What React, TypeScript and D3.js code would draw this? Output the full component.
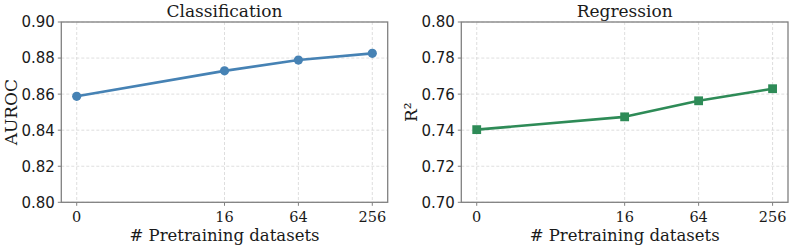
import { useEffect, useRef } from 'react';
import * as d3 from 'd3';

const datasetCounts = [0, 16, 64, 256];
const classificationAuroc = [0.8588, 0.8729, 0.8789, 0.8826];
const regressionR2 = [0.7403, 0.7474, 0.7563, 0.7630];
const classificationTicks = [0.8, 0.82, 0.84, 0.86, 0.88, 0.9];
const regressionTicks = [0.7, 0.72, 0.74, 0.76, 0.78, 0.8];

const WIDTH = 792;
const HEIGHT = 247;
const SERIF = "'DejaVu Serif', serif";
const SANS = "'DejaVu Sans', sans-serif";

function drawPanel(svg, opts) {
  const { left, right, top, bottom, title, ylabel, values, yDomain, yTicks, color, marker } = opts;
  const g = svg.append('g');

  // x is log2 of dataset count, with 0 sitting where 1 would be
  const pad = (right - left) * 0.0472;
  const x = d3.scaleLog().base(2).domain([1, 256]).range([left + pad, right - pad]).clamp(true);
  const y = d3.scaleLinear().domain(yDomain).range([bottom, top]);

  // grid
  g.selectAll('.hgrid')
    .data(yTicks)
    .enter()
    .append('line')
    .attr('x1', left)
    .attr('x2', right)
    .attr('y1', d => y(d))
    .attr('y2', d => y(d))
    .attr('stroke', '#d6d6d6')
    .attr('stroke-width', 0.8)
    .attr('stroke-dasharray', '3,2');
  g.selectAll('.vgrid')
    .data(datasetCounts)
    .enter()
    .append('line')
    .attr('x1', d => x(d))
    .attr('x2', d => x(d))
    .attr('y1', top)
    .attr('y2', bottom)
    .attr('stroke', '#d6d6d6')
    .attr('stroke-width', 0.8)
    .attr('stroke-dasharray', '3,2');

  // frame
  g.append('rect')
    .attr('x', left)
    .attr('y', top)
    .attr('width', right - left)
    .attr('height', bottom - top)
    .attr('fill', 'none')
    .attr('stroke', '#808080')
    .attr('stroke-width', 1.3);

  // y ticks
  yTicks.forEach(t => {
    g.append('line')
      .attr('x1', left - 3.5)
      .attr('x2', left)
      .attr('y1', y(t))
      .attr('y2', y(t))
      .attr('stroke', '#808080')
      .attr('stroke-width', 1);
    g.append('text')
      .attr('x', left - 6.5)
      .attr('y', y(t))
      .attr('dy', '0.36em')
      .attr('text-anchor', 'end')
      .attr('font-family', SANS)
      .attr('font-size', 15)
      .attr('fill', '#1a1a1a')
      .text(t.toFixed(2));
  });

  // x ticks
  datasetCounts.forEach(c => {
    g.append('line')
      .attr('x1', x(c))
      .attr('x2', x(c))
      .attr('y1', bottom)
      .attr('y2', bottom + 3.5)
      .attr('stroke', '#808080')
      .attr('stroke-width', 1);
    g.append('text')
      .attr('x', x(c))
      .attr('y', 221.5)
      .attr('text-anchor', 'middle')
      .attr('font-family', SERIF)
      .attr('font-size', 14.5)
      .attr('fill', '#1a1a1a')
      .text(String(c));
  });

  // line
  const points = datasetCounts.map((c, i) => [x(c), y(values[i])]);
  g.append('path')
    .attr('d', d3.line()(points))
    .attr('fill', 'none')
    .attr('stroke', color)
    .attr('stroke-width', 2.6)
    .attr('stroke-linejoin', 'round');

  if (marker === 'circle') {
    g.selectAll('.pt')
      .data(points)
      .enter()
      .append('circle')
      .attr('cx', d => d[0])
      .attr('cy', d => d[1])
      .attr('r', 4.6)
      .attr('fill', color);
  } else {
    g.selectAll('.pt')
      .data(points)
      .enter()
      .append('rect')
      .attr('x', d => d[0] - 4.4)
      .attr('y', d => d[1] - 4.4)
      .attr('width', 8.8)
      .attr('height', 8.8)
      .attr('fill', color);
  }

  // labels
  g.append('text')
    .attr('x', (left + right) / 2)
    .attr('y', 17)
    .attr('text-anchor', 'middle')
    .attr('font-family', SERIF)
    .attr('font-size', 17)
    .attr('fill', '#1a1a1a')
    .text(title);
  g.append('text')
    .attr('x', (left + right) / 2)
    .attr('y', 240.5)
    .attr('text-anchor', 'middle')
    .attr('font-family', SERIF)
    .attr('font-size', 16.5)
    .attr('fill', '#1a1a1a')
    .text('# Pretraining datasets');
  g.append('text')
    .attr('transform', `translate(${opts.ylabelX},${(top + bottom) / 2}) rotate(-90)`)
    .attr('text-anchor', 'middle')
    .attr('font-family', SERIF)
    .attr('font-size', 17)
    .attr('fill', '#1a1a1a')
    .text(ylabel);
}

export default function App() {
  const svgRef = useRef(null);

  useEffect(() => {
    const svg = d3.select(svgRef.current);
    svg.selectAll('*').remove();

    drawPanel(svg, {
      left: 61.3, right: 387.7, top: 22, bottom: 202.3,
      title: 'Classification', ylabel: 'AUROC', ylabelX: 17,
      values: classificationAuroc, yDomain: [0.8, 0.9], yTicks: classificationTicks,
      color: '#4682b4', marker: 'circle',
    });
    drawPanel(svg, {
      left: 461.3, right: 788, top: 22, bottom: 202.3,
      title: 'Regression', ylabel: 'R²', ylabelX: 417,
      values: regressionR2, yDomain: [0.7, 0.8], yTicks: regressionTicks,
      color: '#2e8b57', marker: 'square',
    });
  }, []);

  return (
    <svg
      ref={svgRef}
      width={WIDTH}
      height={HEIGHT}
      style={{ position: 'absolute', left: 0, top: 0, background: '#fff' }}
    />
  );
}
